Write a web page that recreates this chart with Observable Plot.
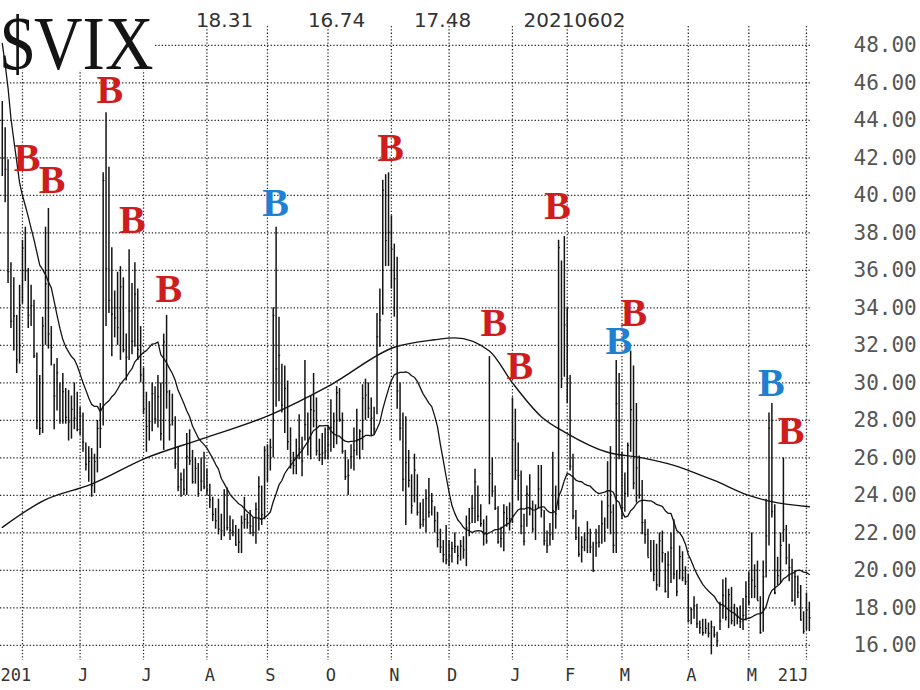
<!DOCTYPE html>
<html>
<head>
<meta charset="utf-8">
<script src="https://cdn.jsdelivr.net/npm/d3@7"></script>
<script src="https://cdn.jsdelivr.net/npm/@observablehq/plot@0.6"></script>
<style>
  html, body { margin: 0; padding: 0; background: #fff; }
  #chart { width: 920px; height: 690px; }
</style>
</head>
<body>
<div id="chart"></div>
<script>
// ---------- DATA (trading day index 0 = 2020-04-22 ... 280 = 2021-06-02) ----------
const titleText = "$VIX";
const headerValues = ["18.31", "16.74", "17.48", "20210602"];

const highs = [
  45.0,43.6,41.9,36.4,35.6,33.6,35.2,
  37.6,38.3,36.1,35.2,34.4,31.6,30.4,33.5,38.3,39.3,33.0,31.0,31.3,30.0,30.5,29.7,29.6,29.3,30.0,29.5,
  28.7,28.4,26.8,26.6,26.5,26.2,28.0,28.9,41.2,44.4,41.5,37.2,34.9,35.9,36.2,35.6,32.6,37.1,35.3,36.4,35.0,33.0,
  30.8,29.5,29.0,30.0,29.8,30.4,30.0,32.6,33.6,29.6,29.4,28.2,26.6,25.2,25.4,27.3,27.5,26.4,26.0,25.7,26.0,26.3,
  25.4,24.6,23.9,23.3,23.8,23.0,24.3,24.4,22.9,22.7,22.4,22.2,22.9,23.9,23.0,23.2,22.8,23.6,25.0,24.5,26.6,
  26.7,27.0,34.0,38.3,33.5,31.0,30.9,30.1,27.6,26.3,27.0,28.3,27.1,31.2,28.4,29.3,30.5,29.2,27.0,27.3,27.6,
  27.7,29.1,28.4,29.8,29.7,28.4,26.4,25.9,26.7,27.6,28.6,27.5,29.9,30.2,30.0,29.2,28.7,33.7,35.0,40.8,41.1,41.2,
  38.9,37.4,36.7,30.0,28.4,28.2,26.4,25.1,26.2,25.1,23.6,23.8,24.3,24.9,24.1,23.4,23.1,22.2,21.6,22.4,
  21.6,21.5,22.0,21.3,21.6,21.8,22.9,23.3,24.0,25.4,24.5,23.5,22.7,22.9,31.4,26.0,24.5,23.4,22.3,23.5,23.4,23.6,
  29.2,28.6,26.8,25.3,23.0,24.5,25.1,23.7,23.5,25.6,25.6,23.2,22.1,22.5,26.3,24.5,37.6,36.5,37.8,
  34.0,30.4,26.2,23.2,22.3,21.8,22.0,22.6,22.2,21.5,22.2,22.4,23.7,22.8,25.8,26.6,23.5,31.2,30.5,
  26.3,25.2,26.8,31.7,30.9,28.9,26.1,24.8,22.7,22.2,21.6,21.6,21.4,22.0,22.1,20.9,21.0,22.0,22.7,20.0,21.3,21.0,20.2,
  19.8,18.0,18.6,18.2,17.3,17.4,17.4,17.2,17.3,17.0,16.7,18.3,19.5,19.6,19.0,19.1,18.2,18.0,18.1,18.5,19.4,
  19.9,22.0,20.3,20.5,18.6,20.5,23.8,28.4,28.9,23.5,20.7,22.0,26.0,22.4,21.4,20.6,20.0,19.7,19.2,17.8,
  18.8,18.31
];

const lows = [
  41.0,39.6,35.3,32.9,31.7,30.5,31.0,
  34.2,35.4,32.9,33.0,31.3,27.5,27.2,27.3,32.0,31.8,30.9,27.5,28.5,27.8,27.8,27.8,26.9,27.0,27.5,27.4,
  27.2,26.3,25.3,24.7,23.9,24.1,25.2,26.5,27.7,33.0,33.7,31.4,32.4,32.0,31.2,31.6,30.1,31.2,31.5,31.9,31.2,30.0,
  28.3,26.3,26.9,27.4,27.8,27.6,26.9,26.4,28.6,26.9,27.7,25.4,24.2,23.9,24.0,24.0,25.6,24.6,24.6,23.9,24.2,24.3,
  24.0,23.3,22.6,22.2,21.9,21.6,21.8,22.1,21.6,21.8,21.3,20.9,20.9,22.2,22.2,21.9,21.8,21.4,22.1,22.4,22.7,
  24.7,25.3,26.0,28.7,29.0,28.4,27.3,26.4,25.4,25.1,25.1,25.9,25.0,26.9,26.1,25.9,27.6,26.1,25.8,25.6,25.9,
  25.9,26.3,26.5,26.7,27.9,26.2,24.8,24.0,25.4,25.3,26.1,25.9,26.4,28.0,28.1,27.2,27.2,28.3,31.9,33.6,36.2,36.2,
  35.0,33.5,28.6,26.9,24.2,22.4,24.4,23.0,23.6,22.9,22.2,22.3,22.0,22.8,22.9,22.0,21.2,20.9,20.4,20.3,
  20.2,20.4,20.9,20.3,20.5,20.6,20.2,21.8,22.5,22.5,22.6,22.3,21.3,21.4,23.5,23.9,23.2,21.4,21.2,21.0,22.3,22.1,
  22.5,24.8,23.7,21.9,21.3,22.3,22.9,22.0,21.6,23.3,22.8,21.3,20.9,21.3,21.6,22.2,23.2,29.7,30.3,
  28.9,25.3,22.7,21.6,20.7,20.4,21.0,20.9,20.9,19.9,20.7,21.2,21.4,21.5,22.2,21.9,20.9,20.9,25.9,
  22.7,23.1,23.9,26.3,24.3,23.6,23.8,21.9,21.4,20.7,19.9,19.4,18.9,19.1,20.4,18.8,18.5,19.3,19.5,18.6,19.5,19.4,19.2,
  17.2,17.1,17.4,16.9,16.6,16.5,16.6,16.4,15.5,16.4,15.9,16.8,17.4,17.3,16.9,17.1,17.0,17.1,16.9,16.8,17.3,
  18.1,18.5,18.5,18.4,16.6,16.7,19.6,21.3,22.8,18.7,19.2,19.3,21.5,20.3,19.4,18.3,18.1,18.5,17.3,16.6,
  16.8,16.74
];

const closes = [
  41.98,41.38,35.93,33.29,33.57,31.23,34.15,
  37.19,35.97,33.61,34.12,31.44,27.98,27.57,33.04,35.28,32.61,31.89,29.30,30.53,27.99,29.53,28.16,27.91,28.59,28.12,27.51,
  28.23,26.84,25.66,25.81,24.52,25.81,27.57,27.57,40.79,36.09,34.40,33.67,33.47,32.94,35.12,31.77,31.37,33.84,32.22,34.73,31.78,30.43,
  28.62,27.68,27.94,29.43,28.08,29.26,27.29,32.19,29.52,27.76,28.00,25.68,24.46,24.84,24.32,26.08,25.84,24.74,25.44,24.10,24.76,24.46,
  24.28,23.76,22.99,22.65,22.21,22.13,24.03,22.28,22.13,22.05,21.35,21.51,22.54,22.72,22.54,22.37,22.03,23.27,24.47,22.96,26.41,
  26.12,26.57,33.60,30.75,31.46,28.81,29.71,26.87,25.85,25.59,26.04,26.46,25.83,27.78,26.86,28.58,28.51,26.38,26.19,26.27,26.37,
  26.70,27.63,27.96,29.48,28.06,26.36,25.00,25.07,26.07,26.40,26.97,27.41,29.18,29.35,28.65,28.11,27.55,32.46,33.35,40.28,37.59,38.02,
  37.13,35.55,29.57,27.58,24.86,25.75,24.80,23.45,25.35,23.10,22.45,22.71,23.84,23.11,23.70,22.66,21.64,21.25,20.84,20.57,
  20.77,21.17,21.28,20.79,21.30,21.10,22.27,22.52,23.31,24.72,22.89,22.50,21.93,21.57,25.16,24.23,23.31,21.53,21.70,23.08,22.77,22.75,
  26.97,25.34,25.07,22.37,21.56,24.08,23.33,22.21,23.25,24.34,23.24,21.58,21.32,21.91,23.19,23.02,37.21,30.21,33.09,
  30.24,25.56,22.91,21.77,20.87,21.24,21.63,21.99,21.25,19.97,21.46,21.50,22.49,22.05,23.45,23.11,21.34,28.89,27.95,
  23.35,24.10,26.67,28.57,24.66,25.47,24.03,22.56,21.91,20.69,20.03,19.79,19.23,21.58,20.95,18.88,20.30,21.20,19.81,18.86,20.74,19.61,19.40,
  17.33,17.91,18.12,17.16,16.95,16.69,16.91,16.65,16.99,16.57,16.25,17.30,18.68,17.50,18.71,17.33,17.64,17.56,17.28,17.61,18.61,
  18.31,19.48,19.15,18.39,16.69,19.66,21.84,27.59,23.13,18.81,19.72,21.34,22.18,20.67,20.15,18.40,19.66,18.84,17.36,16.76,
  17.90,17.48
];

// closes of the 19 sessions before the first visible day (lead-in for the 20-day average)
const leadCloses = [63.95,61.00,65.54,57.08,53.54,57.06,50.91,46.80,45.24,46.70,43.35,41.67,41.17,37.76,40.84,40.11,38.15,43.83,45.41];

// 200-day moving average
const ma200Days   = [0, 14, 31, 50, 69, 93, 114, 136, 150, 157, 169, 177, 187, 196, 210, 222, 233, 242, 247, 259, 266, 280];
const ma200Values = [22.3, 23.7, 24.6, 26.0, 27.0, 28.3, 29.9, 31.9, 32.3, 32.4, 31.7, 30.0, 28.2, 27.3, 26.3, 26.0, 25.6, 25.1, 24.8, 24.0, 23.7, 23.4];

// "B" signals
const signalDays   = [8.6, 17.3, 37.3, 45.1, 57.8, 94.8, 134.7, 170.5, 179.6, 192.7, 213.9, 219.1, 266.8, 273.7];
const signalLevels = [42.0, 40.8, 45.6, 38.7, 35.0, 39.6, 42.5, 33.2, 30.9, 39.4, 32.2, 33.7, 30.0, 27.4];
const signalKinds  = ["red","red","red","red","red","blue","red","red","red","red","blue","red","blue","red"];

// axes
const monthDays   = [7, 27, 49, 71, 92, 113, 135, 155, 177, 196, 215, 238, 259, 279];
const monthLabels = ["201", "J", "J", "A", "S", "O", "N", "D", "J", "F", "M", "A", "M", "21J"];
const yTicks = [16, 18, 20, 22, 24, 26, 28, 30, 32, 34, 36, 38, 40, 42, 44, 46, 48];

// ---------- BUILD ----------
const days = closes.map((close, i) => ({i, high: highs[i], low: lows[i], close}));
const allCloses = leadCloses.concat(closes);
const ma20 = closes.map((_, i) => ({i, v: d3.mean(allCloses.slice(i, i + 20))}));
const ma200 = ma200Days.map((i, k) => ({i, v: ma200Values[k]}));
const kindColor = {red: "#cf1d1d", blue: "#1f7fd0"};
const signals = signalDays.map((i, k) => ({i, v: signalLevels[k], color: kindColor[signalKinds[k]]}));
const monthTicks = monthDays.map((d, k) => ({d, label: monthLabels[k]}));

const xDomain = [-0.62, 280.4];
const grid = {stroke: "#262626", strokeDasharray: "1.3,2", strokeWidth: 1.25};
const ink = "#141414";
const headerCenters = [224, 336, 442, 574];

const chart = Plot.plot({
  width: 920,
  height: 690,
  marginLeft: 0,
  marginRight: 110,
  marginTop: 26,
  marginBottom: 30,
  x: {type: "linear", domain: xDomain, axis: null},
  y: {domain: [15.2, 49], axis: null},
  color: {type: "identity"},
  style: {background: "#fff", overflow: "visible"},
  marks: [
    Plot.ruleY(yTicks, {y: d => d, ...grid}),
    Plot.ruleX(monthDays, {x: d => d, ...grid}),
    Plot.text([titleText], {
      frameAnchor: "top-left", text: d => d, textAnchor: "start",
      lineAnchor: "bottom", dx: 0, dy: 42,
      fontFamily: "Liberation Serif", fontSize: 76, fill: ink
    }),
    Plot.ruleX(days, {x: "i", y1: "low", y2: "high", stroke: ink, strokeWidth: 1.5}),
    Plot.ruleY(days, {y: "close", x1: "i", x2: d => d.i + 0.6, stroke: ink, strokeWidth: 1.2}),
    Plot.line(ma200, {x: "i", y: "v", curve: "monotone-x", stroke: ink, strokeWidth: 1.4}),
    Plot.line(ma20, {x: "i", y: "v", stroke: ink, strokeWidth: 1.3}),
    Plot.text(signals, {
      x: "i", y: "v", text: () => "B", fill: "color",
      fontFamily: "Liberation Serif", fontWeight: "bold", fontSize: 40
    }),
    Plot.text(yTicks, {
      x: xDomain[1], y: d => d, text: d => d.toFixed(2), textAnchor: "start", dx: 43,
      fontFamily: "DejaVu Sans Mono", fontSize: 21, fill: "#555"
    }),
    Plot.text(monthTicks.slice(0, 1), {
      frameAnchor: "bottom-left", text: "label", textAnchor: "start", dx: 0, dy: 20,
      fontFamily: "DejaVu Sans Mono", fontSize: 17, fill: "#333"
    }),
    Plot.text(monthTicks.slice(1, -1), {
      x: "d", frameAnchor: "bottom", text: "label", dx: 3, dy: 20,
      fontFamily: "DejaVu Sans Mono", fontSize: 17, fill: "#333"
    }),
    Plot.text(monthTicks.slice(-1), {
      x: "d", frameAnchor: "bottom", text: "label", textAnchor: "end", dx: 2, dy: 20,
      fontFamily: "DejaVu Sans Mono", fontSize: 17, fill: "#333"
    }),
    ...headerValues.map((h, k) => Plot.text([h], {
      frameAnchor: "top-left", text: d => d, textAnchor: "middle", dx: headerCenters[k], dy: -14,
      fontFamily: "DejaVu Sans", fontSize: 20, fill: "#333", letterSpacing: 1
    }))
  ]
});

// white box behind the big title, and condense the title glyphs
const titleEl = Array.from(chart.querySelectorAll("text")).find(t => t.textContent === titleText);
if (titleEl) {
  const g = titleEl.closest("g[aria-label]") || titleEl.parentNode;
  const r = document.createElementNS("http://www.w3.org/2000/svg", "rect");
  r.setAttribute("x", 0); r.setAttribute("y", 0);
  r.setAttribute("width", 155); r.setAttribute("height", 70);
  r.setAttribute("fill", "#fff");
  g.parentNode.insertBefore(r, g);
  titleEl.setAttribute("textLength", 153);
  titleEl.setAttribute("lengthAdjust", "spacingAndGlyphs");
}

document.getElementById("chart").append(chart);
</script>
</body>
</html>
